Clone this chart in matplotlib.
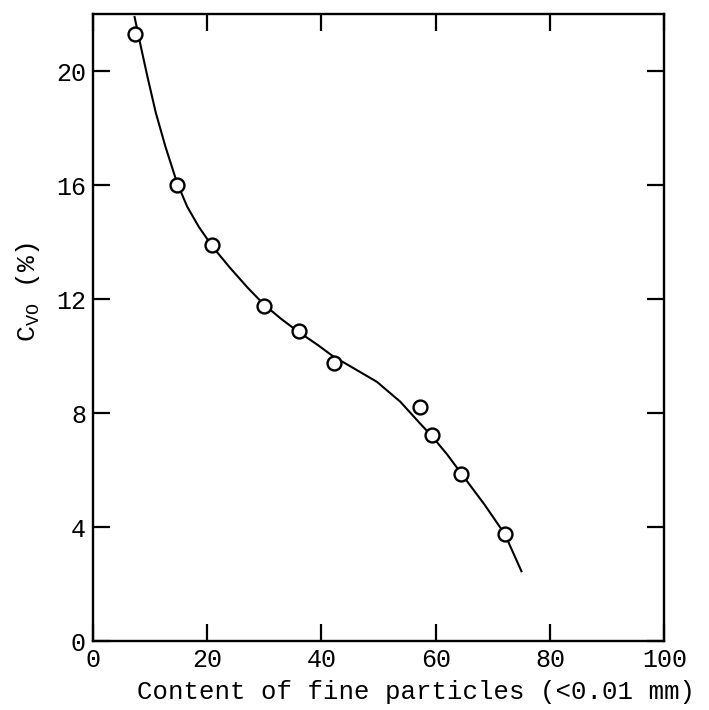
import matplotlib
matplotlib.use("Agg")
import matplotlib.pyplot as plt

plt.rcParams['font.family'] = ['Liberation Mono', 'DejaVu Sans']
plt.rcParams['mathtext.fontset'] = 'custom'
plt.rcParams['mathtext.rm'] = 'Liberation Mono'

# measured points
pt_x = [7.3, 14.7, 20.9, 30.0, 36.0, 42.2, 57.2, 59.3, 64.4, 72.1]
pt_y = [21.3, 16.0, 13.9, 11.75, 10.9, 9.75, 8.2, 7.25, 5.85, 3.75]

# fitted curve
curve_x = [7.3, 8.3, 9.5, 11.0, 12.7, 14.7, 16.5, 18.5, 20.9, 24.0, 27.1, 30.0,
           33.0, 36.0, 39.3, 42.0, 45.0, 49.7, 53.8, 57.2, 59.3, 62.0, 64.4,
           68.5, 72.1, 75.0]
curve_y = [21.9, 20.95, 19.85, 18.55, 17.35, 16.1, 15.25, 14.55, 13.85, 13.1,
           12.4, 11.8, 11.3, 10.85, 10.4, 10.0, 9.65, 9.1, 8.4, 7.65, 7.2,
           6.55, 5.9, 4.8, 3.75, 2.45]

x_ticks = [0, 20, 40, 60, 80, 100]
y_ticks = [0, 4, 8, 12, 16, 20]

fig = plt.figure(figsize=(7.09, 7.10), dpi=100)
ax = fig.add_axes([0.131, 0.097, 0.806, 0.883])

ax.plot(curve_x, curve_y, color='black', lw=1.5, zorder=2,
        solid_joinstyle='round')
ax.plot(pt_x, pt_y, 'o', ms=10, mfc='white', mec='black', mew=1.7, zorder=3)

ax.set_xlim(0, 100)
ax.set_ylim(0, 22)
ax.set_xticks(x_ticks)
ax.set_yticks(y_ticks)
ax.set_xticklabels([str(v) for v in x_ticks], fontsize=18)
ax.set_yticklabels([str(v) for v in y_ticks], fontsize=18)

ax.tick_params(direction='in', length=12, width=1.6, top=True, right=True,
               pad=5)
for s in ax.spines.values():
    s.set_linewidth(1.7)

ax.set_xlabel('Content of fine particles (<0.01 mm)', fontsize=18.5,
              labelpad=6, x=0.566)
ax.set_ylabel(r'C$_{\mathregular{VO}}$ (%)', fontsize=19, labelpad=10,
              y=0.557)

fig.savefig('out.png', dpi=100)
